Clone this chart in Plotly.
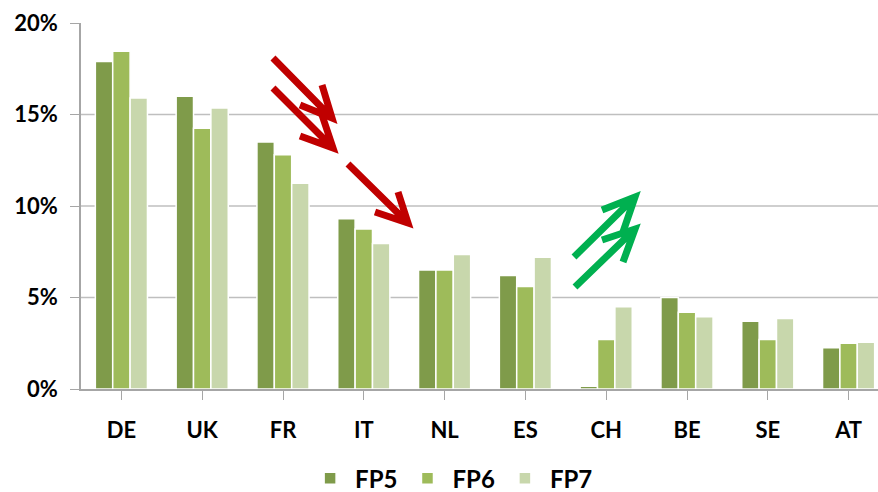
import plotly.graph_objects as go

categories = ["DE", "UK", "FR", "IT", "NL", "ES", "CH", "BE", "SE", "AT"]
fp5 = [17.9, 16.0, 13.5, 9.3, 6.5, 6.2, 0.15, 5.0, 3.7, 2.25]
fp6 = [18.45, 14.25, 12.8, 8.75, 6.5, 5.6, 2.7, 4.2, 2.7, 2.5]
fp7 = [15.9, 15.35, 11.25, 7.95, 7.35, 7.2, 4.5, 3.95, 3.85, 2.55]
series_names = ["FP5", "FP6", "FP7"]
colors = ["#7F9B4A", "#9EBB5A", "#C8D7AC"]
y_ticks = [0, 5, 10, 15, 20]
y_ticktext = ["0%", "5%", "10%", "15%", "20%"]

W, H = 878, 492
ML, MR, MT, MB = 81, 0, 23, 103
PW, PH = W - ML - MR, H - MT - MB

FONT = "Lato"

fig = go.Figure()
for name, vals, col in zip(series_names, [fp5, fp6, fp7], colors):
    fig.add_trace(go.Bar(
        x=list(range(len(categories))), y=vals, name=name,
        marker=dict(color=col, line=dict(color="white", width=1.5)),
    ))

def px2paper(px, py):
    return (px - ML) / PW, (MT + PH - py) / PH

def arrow_path(start, tip, arm1, arm2):
    pts = [start, tip, arm1, arm2]
    p = [px2paper(*q) for q in pts]
    s, t, a1, a2 = p
    return (f"M {s[0]},{s[1]} L {t[0]},{t[1]} "
            f"M {a1[0]},{a1[1]} L {t[0]},{t[1]} L {a2[0]},{a2[1]}")

shapes = []
# gridlines at 5, 10, 15
for v in y_ticks[1:-1]:
    shapes.append(dict(type="line", xref="paper", yref="y", x0=0, x1=1, y0=v, y1=v,
                       line=dict(color="#BFBFBF", width=1.5), layer="below"))

red = "#C00000"
green = "#00B050"
red_arrows = [
    ((273, 58), (332, 118), (322, 85), (300, 105)),
    ((273, 88), (333, 148), (322, 115), (300, 136)),
    ((348, 164), (408, 223), (398, 192), (375, 212)),
]
green_arrows = [
    ((574, 257), (635, 197), (602, 210), (623, 232)),
    ((575, 287), (635, 229), (602, 240), (623, 262)),
]
for a in red_arrows:
    shapes.append(dict(type="path", xref="paper", yref="paper", path=arrow_path(*a),
                       line=dict(color=red, width=7)))
for a in green_arrows:
    shapes.append(dict(type="path", xref="paper", yref="paper", path=arrow_path(*a),
                       line=dict(color=green, width=7)))

fig.update_layout(
    width=W, height=H,
    margin=dict(l=ML, r=MR, t=MT, b=MB, autoexpand=False),
    paper_bgcolor="white", plot_bgcolor="white",
    barmode="group", bargap=0.355, bargroupgap=0.0,
    font=dict(family=FONT, size=22, color="black"),
    shapes=shapes,
    showlegend=True,
    legend=dict(orientation="h", x=0.465, xanchor="center", y=-0.245, yanchor="middle",
                font=dict(family=FONT, size=24, color="black", weight="bold"),
                itemwidth=40, traceorder="normal"),
    xaxis=dict(
        range=[-0.5, -0.5 + PW / 80.8],
        tickmode="array", tickvals=list(range(len(categories))), ticktext=categories,
        tickson="boundaries", ticks="outside", ticklen=9, tickcolor="#A6A6A6",
        showline=True, linecolor="#A6A6A6", linewidth=1.5,
        showgrid=False, zeroline=False, automargin=False,
        tickfont=dict(family=FONT, size=22, color="black", weight="bold"),
        ticklabelstandoff=12,
    ),
    yaxis=dict(
        range=[0, 20],
        tickmode="array", tickvals=y_ticks, ticktext=y_ticktext,
        ticks="outside", ticklen=9, tickcolor="#A6A6A6",
        showline=True, linecolor="#A6A6A6", linewidth=1.5,
        showgrid=False, zeroline=False, automargin=False,
        tickfont=dict(family=FONT, size=22, color="black", weight="bold"),
        ticklabelstandoff=8,
    ),
)

fig.write_html("out.html", config={"displayModeBar": False},
               post_script="document.body.style.margin='0';document.body.style.overflow='hidden';")
